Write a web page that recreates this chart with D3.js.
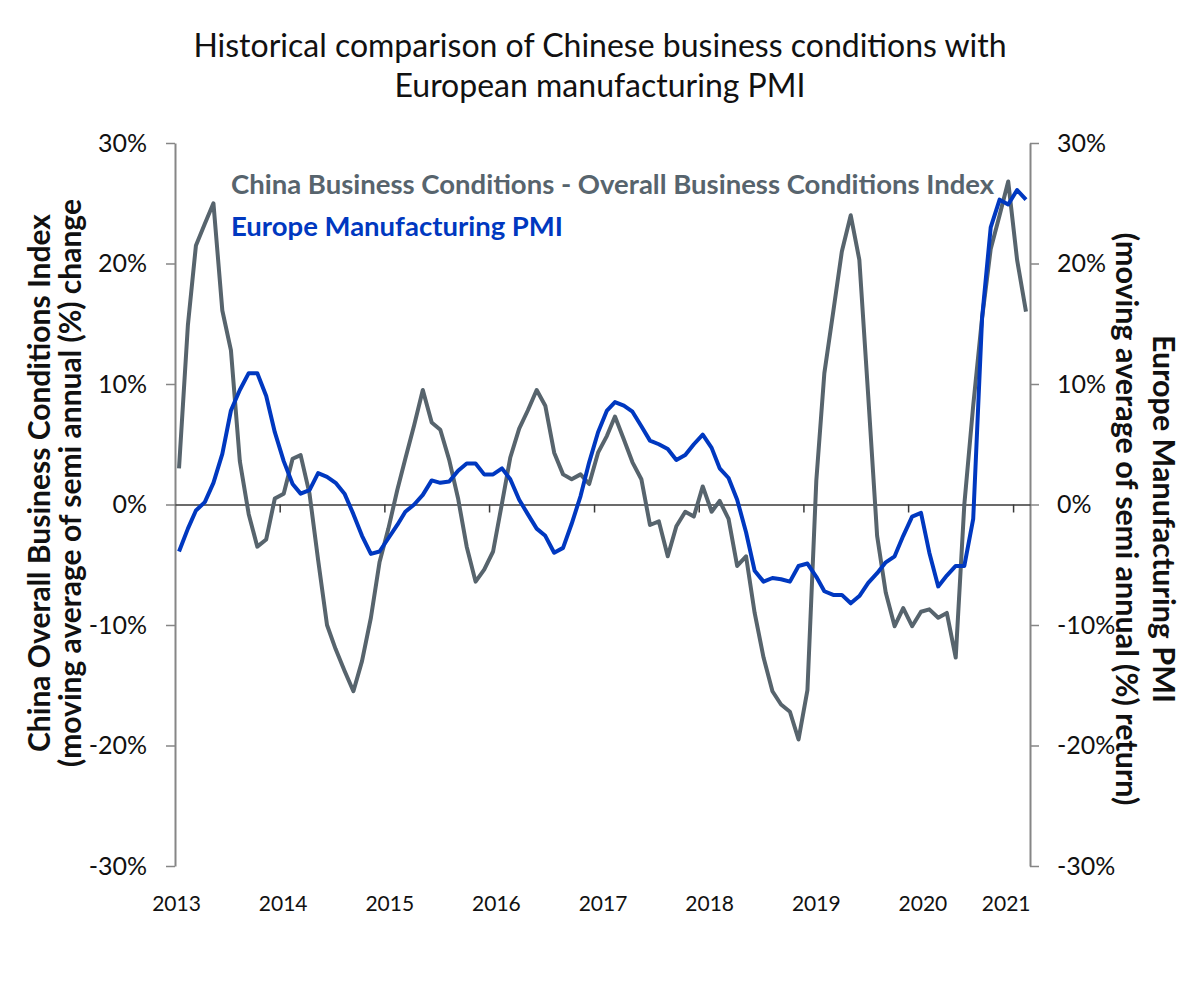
<!DOCTYPE html>
<html>
<head>
<meta charset="utf-8">
<script src="https://cdn.jsdelivr.net/npm/d3@7/dist/d3.min.js"></script>
<style>
body { margin: 0; background: #fff; }
svg { font-family: Lato, "Open Sans", sans-serif; }
</style>
</head>
<body>
<svg width="1200" height="1000"></svg>
<script>
// monthly values, Jan 2013 - Feb 2021 (%)
var firstMonth = new Date(2013, 0, 15);

var china = [3.0, 14.9, 21.5, 23.3, 25.0, 16.1, 12.8, 3.6, -0.8, -3.5, -2.9, 0.5,
    0.9, 3.8, 4.1, 0.9, -4.6, -10.0, -12.0, -13.8, -15.5, -13.0, -9.4, -4.8,
    -2.0, 1.2, 3.8, 6.6, 9.5, 6.8, 6.2, 3.7, 0.5, -3.5, -6.4, -5.4,
    -3.9, 0.1, 3.9, 6.3, 7.8, 9.5, 8.2, 4.3, 2.5, 2.1, 2.5, 1.7,
    4.3, 5.7, 7.3, 5.4, 3.5, 2.1, -1.7, -1.4, -4.3, -1.8, -0.6, -1.0,
    1.5, -0.6, 0.3, -1.2, -5.1, -4.3, -9.0, -12.7, -15.5, -16.6, -17.2, -19.5,
    -15.4, 2.0, 10.9, 16.0, 21.0, 24.0, 20.3, 9.0, -2.6, -7.3, -10.1, -8.6,
    -10.1, -8.9, -8.7, -9.4, -9.0, -12.7, 0.0, 8.2, 15.5, 21.2, 24.0, 26.8,
    20.3, 16.0];

var europe = [-3.9, -2.0, -0.5, 0.2, 1.8, 4.2, 7.8, 9.5, 10.9, 10.9, 9.0, 6.0,
    3.6, 1.7, 0.9, 1.2, 2.6, 2.3, 1.8, 0.9, -0.8, -2.6, -4.1, -3.9,
    -2.8, -1.7, -0.6, 0.0, 0.8, 2.0, 1.8, 1.9, 2.8, 3.4, 3.4, 2.5,
    2.5, 3.0, 2.1, 0.4, -0.8, -2.0, -2.6, -4.0, -3.6, -1.6, 0.7, 3.5,
    6.0, 7.8, 8.5, 8.2, 7.7, 6.5, 5.3, 5.0, 4.6, 3.7, 4.1, 5.0,
    5.8, 4.7, 3.0, 2.2, 0.4, -2.3, -5.5, -6.4, -6.1, -6.2, -6.4, -5.1,
    -4.9, -6.0, -7.2, -7.5, -7.5, -8.2, -7.6, -6.5, -5.7, -4.8, -4.3, -2.6,
    -1.0, -0.7, -4.0, -6.8, -5.9, -5.1, -5.1, -1.2, 15.5, 23.0, 25.3, 24.9,
    26.1, 25.3];

var years = [2013, 2014, 2015, 2016, 2017, 2018, 2019, 2020, 2021];
var yTicks = [-30, -20, -10, 0, 10, 20, 30];

var titleLines = ["Historical comparison of Chinese business conditions with",
                  "European manufacturing PMI"];
var seriesNames = ["China Business Conditions - Overall Business Conditions Index",
                   "Europe Manufacturing PMI"];
var leftTitle = ["China Overall Business Conditions Index",
                 "(moving average of semi annual (%) change"];
var rightTitle = ["Europe Manufacturing PMI",
                  "(moving average of semi annual (%) return)"];

var grayCol = "#57646d", blueCol = "#0038c0";

var svg = d3.select("svg");
// plot box
var plotL = 175, plotR = 1030, plotT = 143, plotB = 866;

var x = d3.scaleTime()
    .domain([new Date(2013, 0, 1), new Date(2021, 2, 1)])
    .range([plotL, plotR]);
var y = d3.scaleLinear().domain([-30, 30]).range([plotB, plotT]);
var yRight = d3.scaleLinear().domain([-30, 30]).range([plotB, plotT]);

function toPoints(vals) {
    return vals.map(function(v, i) {
        return { date: d3.timeMonth.offset(firstMonth, i), value: v };
    });
}

// title
svg.append("g").selectAll("text")
    .data(titleLines)
    .enter()
    .append("text")
    .attr("x", 600)
    .attr("y", function(d, i) { return 57 + i * 40; })
    .attr("text-anchor", "middle")
    .style("font-size", "32px")
    .attr("fill", "#111")
    .text(function(d) { return d; });

// y axes
var fmt = function(d) { return d + "%"; };

var gLeft = svg.append("g")
    .attr("transform", "translate(" + plotL + ",0)")
    .call(d3.axisLeft(y).tickValues(yTicks).tickSize(9).tickSizeOuter(0).tickPadding(19).tickFormat(fmt));

var gRight = svg.append("g")
    .attr("transform", "translate(" + plotR + ",0)")
    .call(d3.axisRight(yRight).tickValues(yTicks).tickSize(9).tickSizeOuter(0).tickPadding(18).tickFormat(fmt));

[gLeft, gRight].forEach(function(g) {
    g.select(".domain").attr("stroke", "#868686").attr("stroke-width", 2);
    g.selectAll(".tick line").attr("stroke", "#868686").attr("stroke-width", 1.5);
    g.selectAll(".tick text")
        .style("font-size", "25px")
        .style("font-family", "Lato, sans-serif")
        .attr("fill", "#111");
});

// zero line with year ticks
var gZero = svg.append("g")
    .attr("transform", "translate(0," + y(0) + ")")
    .call(d3.axisBottom(x)
        .tickValues(years.slice(1).map(function(yr) { return new Date(yr, 0, 1); }))
        .tickSize(8).tickSizeOuter(0).tickFormat(""));
gZero.select(".domain").attr("stroke", "#3a3a3a").attr("stroke-width", 1.5);
gZero.selectAll(".tick line").attr("stroke", "#3a3a3a").attr("stroke-width", 1.5);

// year labels below the plot
var xLab = d3.scalePoint().domain(years).range([176, 1029]);
var gYears = svg.append("g")
    .attr("transform", "translate(0," + (plotB + 30) + ")")
    .call(d3.axisBottom(xLab).tickSize(0).tickPadding(0));
gYears.select(".domain").remove();
gYears.selectAll(".tick text")
    .style("font-size", "21px")
    .style("font-family", "Lato, sans-serif")
    .attr("fill", "#111")
    .attr("text-anchor", function(d) { return d === 2021 ? "end" : "middle"; })
    .attr("dx", function(d) { return d === 2021 ? 1 : 0; });

// axis titles
svg.append("g")
    .attr("transform", "translate(40,483) rotate(-90)")
    .selectAll("text")
    .data(leftTitle)
    .enter()
    .append("text")
    .attr("x", 0)
    .attr("y", function(d, i) { return 10 + i * 31; })
    .attr("text-anchor", "middle")
    .style("font-size", "30px")
    .style("font-weight", "bold")
    .attr("fill", "#111")
    .text(function(d) { return d; });

svg.append("g")
    .attr("transform", "translate(1163,519) rotate(90)")
    .selectAll("text")
    .data(rightTitle)
    .enter()
    .append("text")
    .attr("x", 0)
    .attr("y", function(d, i) { return 10 + i * 37; })
    .attr("text-anchor", "middle")
    .style("font-size", "30.5px")
    .style("font-weight", "bold")
    .attr("fill", "#111")
    .text(function(d) { return d; });

// lines
var line = d3.line()
    .x(function(d) { return x(d.date); })
    .y(function(d) { return y(d.value); });

svg.append("path")
    .datum(toPoints(china))
    .attr("fill", "none")
    .attr("stroke", grayCol)
    .attr("stroke-width", 4)
    .attr("stroke-linejoin", "round")
    .attr("d", line);

svg.append("path")
    .datum(toPoints(europe))
    .attr("fill", "none")
    .attr("stroke", blueCol)
    .attr("stroke-width", 4)
    .attr("stroke-linejoin", "round")
    .attr("d", line);

// legend
svg.append("g").selectAll("text")
    .data(seriesNames)
    .enter()
    .append("text")
    .attr("x", 231)
    .attr("y", function(d, i) { return 194 + i * 42; })
    .style("font-size", "27.5px")
    .style("font-weight", "bold")
    .attr("fill", function(d, i) { return i === 0 ? grayCol : blueCol; })
    .text(function(d) { return d; });
</script>
</body>
</html>
